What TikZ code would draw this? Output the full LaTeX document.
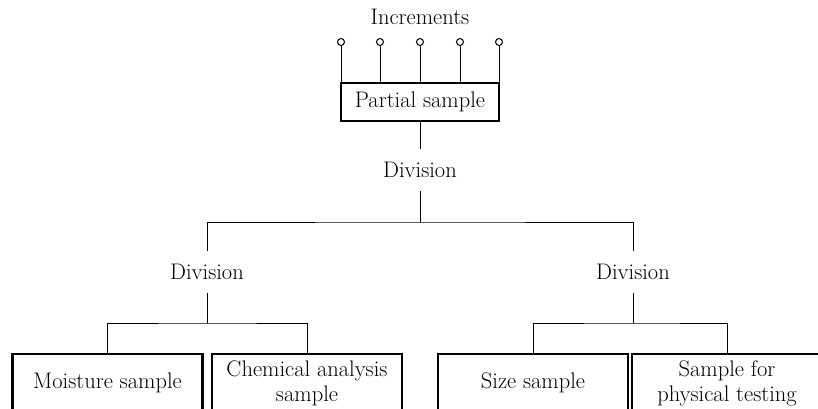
\documentclass[tikz,border=0pt]{standalone}
\usepackage{fontspec}
\setmainfont{Latin Modern Roman}
\begin{document}
\begin{tikzpicture}[x=1pt,y=-1pt,
  font=\fontsize{22.5}{25}\selectfont,
  link/.style={line width=0.9pt},
  label/.style={inner sep=0pt},
  port/.style={circle,draw,line width=1pt,fill=white,minimum size=7pt,inner sep=0pt},
  frame/.style={draw,line width=2.2pt,inner sep=0pt},
  leaf/.style={frame,anchor=north,minimum width=190pt,minimum height=58pt,align=center}]
\useasboundingbox (0,0) rectangle (818,409);
\clip (0,0) rectangle (818,409);

% sampling increments feeding the partial sample
\node[label] (inc) at (420,17) {Increments};
\node[frame,minimum width=158pt,minimum height=38pt] (partial) at (420,102) {Partial sample};
\foreach \i/\x in {1/341,2/380,3/420,4/460,5/499}{
  \node[port] (c\i) at (\x,42) {};
}
\foreach \i in {1,...,5}{
  \draw[link] (c\i.south) -- (c\i.south |- partial.north);
}

% first division
\node[label] (div0) at (420,170) {Division};
\draw[link] (partial.south) -- ([yshift=21pt]div0.center);
\coordinate (split0) at (420,222);
\draw[link] ([yshift=-21pt]div0.center) -- (split0);

% second divisions
\node[label] (div1) at (207,272) {Division};
\node[label] (div2) at (633,272) {Division};
\draw[link] ([yshift=21pt]div1.center) |- (split0) -| ([yshift=21pt]div2.center);

% final samples
\node[leaf] (moist) at (107.5,353) {Moisture sample};
\node[leaf] (chem)  at (307,353) {Chemical analysis\\sample};
\node[leaf] (size)  at (533,353) {Size sample};
\node[leaf] (phys)  at (727,353) {Sample for\\physical testing};

\coordinate (split1) at (207,323);
\coordinate (split2) at (633,323);
\draw[link] ([yshift=-21pt]div1.center) -- (split1);
\draw[link] ([yshift=-21pt]div2.center) -- (split2);
\draw[link] (moist.north) |- (split1) -| (chem.north);
\draw[link] (size.north) |- (split2) -| (phys.north);
\end{tikzpicture}
\end{document}
